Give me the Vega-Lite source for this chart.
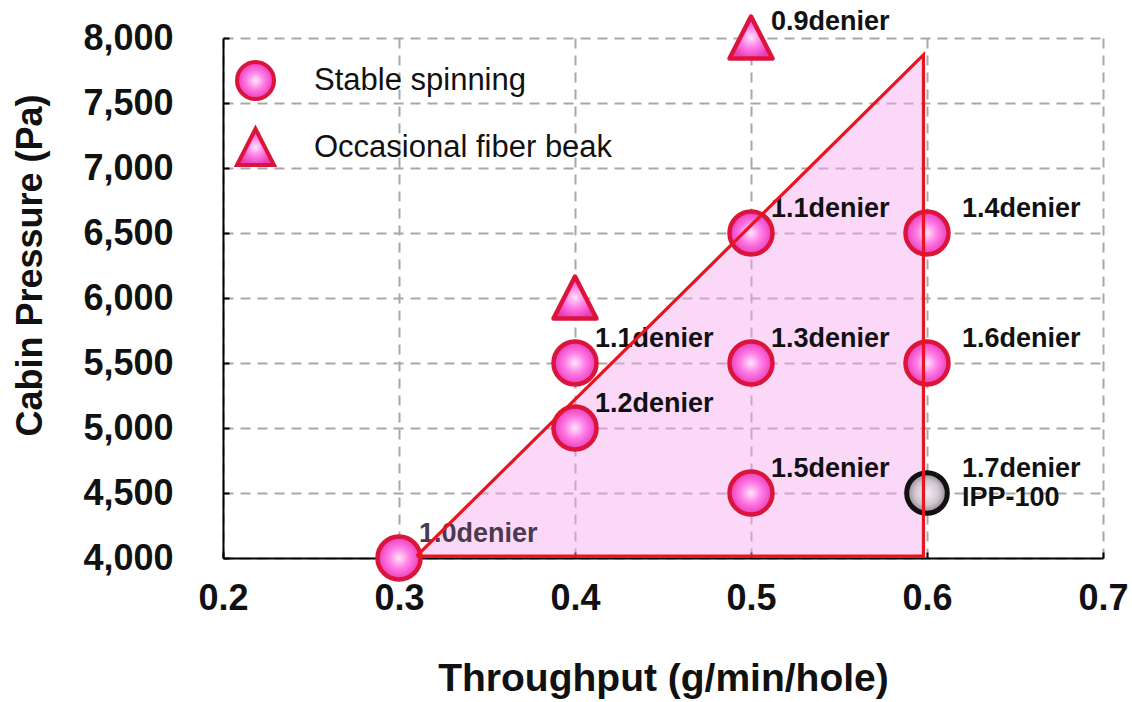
{
  "$schema": "https://vega.github.io/schema/vega-lite/v6.json",
  "width": 880,
  "height": 520,
  "autosize": "none",
  "padding": {"left": 223, "top": 38, "right": 29, "bottom": 144},
  "background": "white",
  "config": {"view": {"stroke": null}, "font": "Liberation Sans"},
  "datasets": {
    "region": [
      {"x": 0.31, "y": 4015, "order": 1},
      {"x": 0.598, "y": 7870, "order": 2},
      {"x": 0.598, "y": 4015, "order": 3},
      {"x": 0.31, "y": 4015, "order": 4}
    ],
    "trials": [
      {"x": 0.3, "y": 4000, "status": "Stable spinning"},
      {"x": 0.4, "y": 5500, "status": "Stable spinning"},
      {"x": 0.4, "y": 5000, "status": "Stable spinning"},
      {"x": 0.5, "y": 6500, "status": "Stable spinning"},
      {"x": 0.5, "y": 5500, "status": "Stable spinning"},
      {"x": 0.5, "y": 4500, "status": "Stable spinning"},
      {"x": 0.6, "y": 6500, "status": "Stable spinning"},
      {"x": 0.6, "y": 5500, "status": "Stable spinning"},
      {"x": 0.4, "y": 6000, "status": "Occasional fiber beak"},
      {"x": 0.5, "y": 8000, "status": "Occasional fiber beak"},
      {"x": 0.6, "y": 4500, "status": "IPP-100"}
    ],
    "labels": [
      {"x": 0.5, "y": 8000, "label": "0.9denier"},
      {"x": 0.5, "y": 6500, "label": "1.1denier"},
      {"x": 0.6, "y": 6500, "label": "1.4denier"},
      {"x": 0.4, "y": 5500, "label": "1.1denier"},
      {"x": 0.5, "y": 5500, "label": "1.3denier"},
      {"x": 0.6, "y": 5500, "label": "1.6denier"},
      {"x": 0.4, "y": 5000, "label": "1.2denier"},
      {"x": 0.5, "y": 4500, "label": "1.5denier"},
      {"x": 0.6, "y": 4500, "label": "1.7denier"},
      {"x": 0.6, "y": 4500, "label": "IPP-100"},
      {"x": 0.3, "y": 4000, "label": "1.0denier"}
    ]
  },
  "layer": [
    {
      "data": {"name": "region"},
      "transform": [{"filter": "datum.order <= 2"}],
      "mark": {"type": "area", "color": "#f8a8f0", "opacity": 0.45},
      "encoding": {
        "x": {
          "field": "x", "type": "quantitative",
          "scale": {"domain": [0.2, 0.7], "nice": false, "zero": false},
          "axis": {
            "values": [0.2, 0.3, 0.4, 0.5, 0.6, 0.7],
            "format": ".1f",
            "title": "Throughput (g/min/hole)",
            "labelFont": "Liberation Sans",
            "labelFontWeight": "bold",
            "labelFontSize": 36,
            "labelColor": "#111111",
            "labelPadding": 29,
            "labelFlush": false,
            "labelOverlap": false,
            "tickSize": -6,
            "tickColor": "#000000",
            "tickWidth": 2,
            "domainColor": "#000000",
            "domainWidth": 2,
            "grid": true,
            "gridColor": "#a8a8a8",
            "gridDash": [10, 7],
            "gridWidth": 2,
            "titleFont": "Liberation Sans",
            "titleFontSize": 39,
            "titleFontWeight": "bold",
            "titleColor": "#111111",
            "titleBaseline": "alphabetic",
            "titleY": 132
          }
        },
        "y": {
          "field": "y", "type": "quantitative",
          "scale": {"domain": [4000, 8000], "nice": false, "zero": false},
          "axis": {
            "values": [4000, 4500, 5000, 5500, 6000, 6500, 7000, 7500, 8000],
            "format": ",d",
            "title": "Cabin Pressure (Pa)",
            "labelFont": "Liberation Sans",
            "labelFontWeight": "bold",
            "labelFontSize": 36,
            "labelColor": "#111111",
            "labelPadding": 56,
            "labelFlush": false,
            "labelOverlap": false,
            "tickSize": -6,
            "tickColor": "#000000",
            "tickWidth": 2,
            "domainColor": "#000000",
            "domainWidth": 2,
            "grid": true,
            "gridColor": "#a8a8a8",
            "gridDash": [10, 7],
            "gridWidth": 2,
            "titleFont": "Liberation Sans",
            "titleFontSize": 36,
            "titleFontWeight": "bold",
            "titleColor": "#111111",
            "titleAngle": 270,
            "titleAlign": "center",
            "titleBaseline": "alphabetic",
            "titleX": -182,
            "titleY": 227
          }
        },
        "y2": {"datum": 4015}
      }
    },
    {
      "data": {"name": "trials"},
      "transform": [{"filter": "datum.status !== 'IPP-100'"}],
      "mark": {
        "type": "point",
        "filled": true,
        "opacity": 1,
        "size": 1850,
        "fill": {
          "gradient": "radial",
          "x1": 0.5, "y1": 0.5, "r1": 0,
          "x2": 0.5, "y2": 0.5, "r2": 0.5,
          "stops": [
            {"offset": 0, "color": "#ffe4fa"},
            {"offset": 0.5, "color": "#ff7ae6"},
            {"offset": 1, "color": "#e83cb8"}
          ]
        },
        "stroke": "#dc143c",
        "strokeWidth": 4.5,
        "strokeJoin": "round"
      },
      "encoding": {
        "x": {"field": "x", "type": "quantitative"},
        "y": {"field": "y", "type": "quantitative"},
        "shape": {
          "field": "status",
          "type": "nominal",
          "scale": {
            "domain": ["Stable spinning", "Occasional fiber beak"],
            "range": ["circle", "M0,-1L1,0.95L-1,0.95Z"]
          },
          "legend": {
            "title": null,
            "orient": "none",
            "legendX": 12,
            "legendY": 22,
            "padding": 0,
            "symbolSize": 1369,
            "symbolStrokeWidth": 4,
            "labelFont": "Liberation Sans",
            "labelFontSize": 31,
            "labelColor": "#111111",
            "labelOffset": 38,
            "labelLimit": 0,
            "rowPadding": 14,
            "encode": {
              "symbols": {
                "update": {
                  "fill": {"value": {
                    "gradient": "radial",
                    "x1": 0.5, "y1": 0.5, "r1": 0,
                    "x2": 0.5, "y2": 0.5, "r2": 0.5,
                    "stops": [
                      {"offset": 0, "color": "#ffe4fa"},
                      {"offset": 0.5, "color": "#ff7ae6"},
                      {"offset": 1, "color": "#e83cb8"}
                    ]
                  }},
                  "stroke": {"value": "#dc143c"},
                  "strokeWidth": {"value": 4},
                  "opacity": {"value": 1}
                }
              }
            }
          }
        }
      }
    },
    {
      "data": {"name": "trials"},
      "transform": [{"filter": "datum.status === 'IPP-100'"}],
      "mark": {
        "type": "point",
        "shape": "circle",
        "filled": true,
        "opacity": 1,
        "size": 1650,
        "fill": {
          "gradient": "radial",
          "x1": 0.5, "y1": 0.5, "r1": 0,
          "x2": 0.5, "y2": 0.5, "r2": 0.5,
          "stops": [
            {"offset": 0, "color": "#f4f0f4"},
            {"offset": 0.6, "color": "#cfc6cf"},
            {"offset": 1, "color": "#8e7f8e"}
          ]
        },
        "stroke": "#111111",
        "strokeWidth": 5
      },
      "encoding": {
        "x": {"field": "x", "type": "quantitative"},
        "y": {"field": "y", "type": "quantitative"}
      }
    },
    {
      "data": {"name": "labels"},
      "transform": [{"filter": "datum.x < 0.55 && datum.label !== '0.9denier'"}],
      "mark": {"type": "text", "align": "left", "baseline": "middle", "dx": 20, "dy": -24, "font": "Liberation Sans", "fontWeight": "bold", "fontSize": 27},
      "encoding": {
        "x": {"field": "x", "type": "quantitative"},
        "y": {"field": "y", "type": "quantitative"},
        "text": {"field": "label"},
        "color": {"condition": {"test": "datum.label === '1.0denier'", "value": "#4a3a4c"}, "value": "#111111"}
      }
    },
    {
      "data": {"name": "labels"},
      "transform": [{"filter": "datum.x > 0.55 && datum.label !== 'IPP-100'"}],
      "mark": {"type": "text", "align": "left", "baseline": "middle", "dx": 35, "dy": -24, "font": "Liberation Sans", "fontWeight": "bold", "fontSize": 27, "color": "#111111"},
      "encoding": {
        "x": {"field": "x", "type": "quantitative"},
        "y": {"field": "y", "type": "quantitative"},
        "text": {"field": "label"}
      }
    },
    {
      "data": {"name": "labels"},
      "transform": [{"filter": "datum.label === 'IPP-100'"}],
      "mark": {"type": "text", "align": "left", "baseline": "middle", "dx": 35, "dy": 5, "font": "Liberation Sans", "fontWeight": "bold", "fontSize": 27, "color": "#111111"},
      "encoding": {
        "x": {"field": "x", "type": "quantitative"},
        "y": {"field": "y", "type": "quantitative"},
        "text": {"field": "label"}
      }
    },
    {
      "data": {"name": "labels"},
      "transform": [{"filter": "datum.label === '0.9denier'"}],
      "mark": {"type": "text", "align": "left", "baseline": "middle", "dx": 20, "dy": -16, "font": "Liberation Sans", "fontWeight": "bold", "fontSize": 27, "color": "#111111"},
      "encoding": {
        "x": {"field": "x", "type": "quantitative"},
        "y": {"field": "y", "type": "quantitative"},
        "text": {"field": "label"}
      }
    },
    {
      "data": {"name": "region"},
      "mark": {"type": "line", "color": "#e8141e", "strokeWidth": 3.2, "strokeJoin": "miter"},
      "encoding": {
        "x": {"field": "x", "type": "quantitative"},
        "y": {"field": "y", "type": "quantitative"},
        "order": {"field": "order", "type": "quantitative"}
      }
    }
  ]
}
